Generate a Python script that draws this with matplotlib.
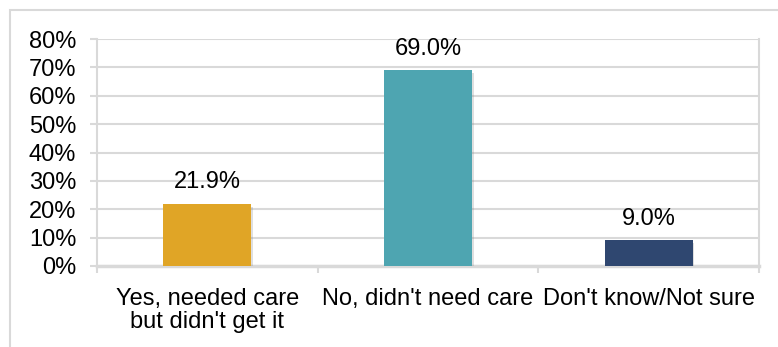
import matplotlib
matplotlib.use("Agg")
import matplotlib.pyplot as plt
from matplotlib.patches import Rectangle
import matplotlib.patheffects as pe

categories = ["Yes, needed care\nbut didn't get it", "No, didn't need care", "Don't know/Not sure"]
values = [21.9, 69.0, 9.0]
colors = ["#E0A526", "#4EA5B1", "#2F4770"]
yticks = [0, 10, 20, 30, 40, 50, 60, 70, 80]

plt.rcParams['font.family'] = ['Liberation Sans', 'DejaVu Sans']
grid_c = "#D9D9D9"
fs = 17

fig = plt.figure(figsize=(7.78, 3.47), dpi=100)
# outer chart frame (top and left edges visible)
fig.patches.append(Rectangle((10/778, -0.1), 1.2, (347-10)/347 + 0.1, transform=fig.transFigure,
                             fill=False, edgecolor=grid_c, lw=1.5))

ax = fig.add_axes([97/778, (347-266)/347, (759-97)/778, (266-39)/347])
x = list(range(len(categories)))
bars = ax.bar(x, values, width=0.40, color=colors, zorder=3,
              path_effects=[pe.SimplePatchShadow(offset=(1, -2), shadow_rgbFace="gray", alpha=0.25), pe.Normal()])

for xi, v in zip(x, values):
    ax.annotate("{:.1f}%".format(v), xy=(xi, v), xytext=(0, 7.5), textcoords="offset points",
                ha="center", va="bottom", fontsize=fs)

ax.set_xlim(-0.5, len(categories) - 0.5)
ax.set_ylim(0, 80)
ax.set_yticks(yticks)
ax.set_yticklabels(["{}%".format(t) for t in yticks], fontsize=fs)
ax.yaxis.grid(True, color=grid_c, lw=1.5, zorder=0)
ax.set_axisbelow(True)

ax.set_xticks(x)
ax.set_xticklabels(categories, fontsize=fs, linespacing=1.05)
ax.set_xticks([i - 0.5 for i in range(len(categories) + 1)], minor=True)
ax.tick_params(axis="x", which="major", length=0, pad=16)
ax.tick_params(axis="x", which="minor", length=5, width=1.5, color=grid_c)
ax.tick_params(axis="y", length=5, width=1.5, color=grid_c, pad=10)

for side in ["left", "right", "bottom"]:
    ax.spines[side].set_color(grid_c)
    ax.spines[side].set_linewidth(1.5)
ax.spines["bottom"].set_linewidth(2.5)
ax.spines["top"].set_visible(False)

fig.savefig("out.png", dpi=100)
